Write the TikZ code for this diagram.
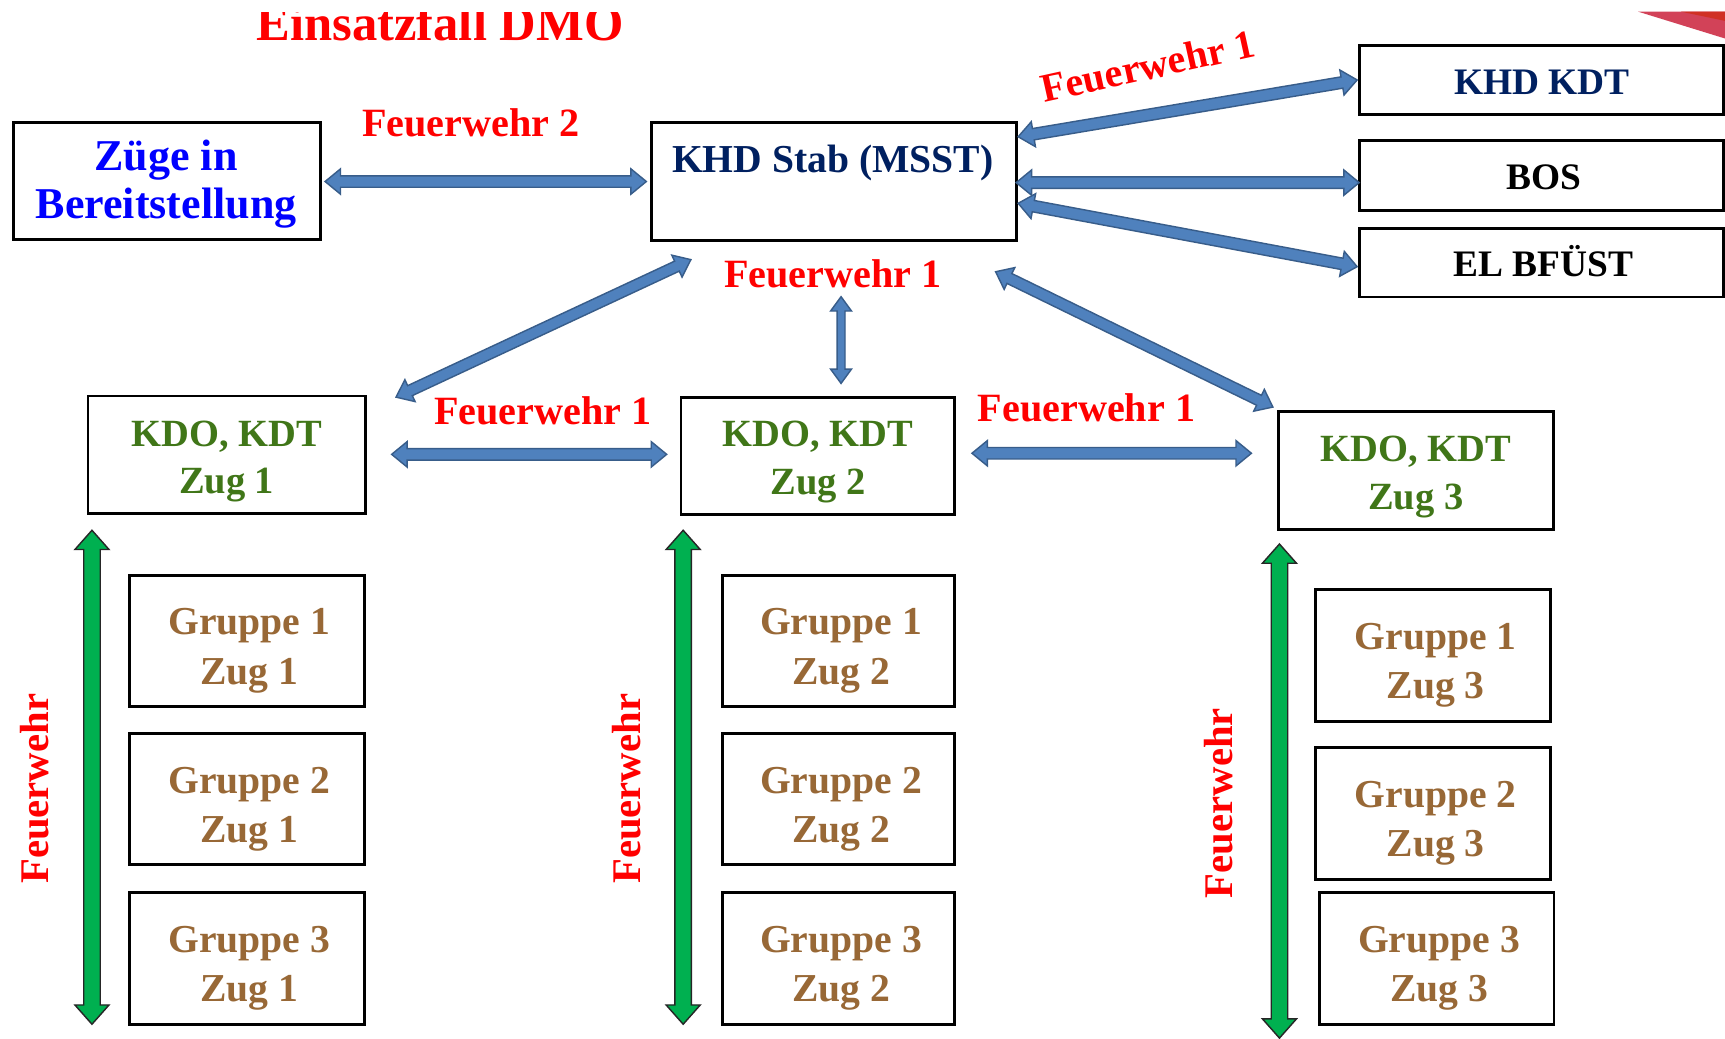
\documentclass[tikz,border=0pt]{standalone}
\usepackage{fontspec}
\setmainfont{Liberation Serif}
\usetikzlibrary{calc}
\definecolor{fwred}{RGB}{255,0,0}
\definecolor{zblue}{RGB}{0,0,255}
\definecolor{navy}{RGB}{0,32,96}
\definecolor{kgreen}{RGB}{64,118,24}
\definecolor{gbrown}{RGB}{152,104,54}
\definecolor{afill}{RGB}{79,129,189}
\definecolor{aline}{RGB}{56,93,138}
\definecolor{gfill}{RGB}{0,176,80}
\definecolor{decored}{RGB}{210,66,88}
\definecolor{decodark}{RGB}{208,48,36}
\newcommand\dblarrow[6]{%
  \coordinate (ha) at ($(#1)!#5!(#2)$);
  \coordinate (hb) at ($(#2)!#5!(#1)$);
  \path[#6] (#1) -- ($(ha)!#4!90:(#2)$) -- ($(ha)!#3!90:(#2)$)
    -- ($(hb)!#3!-90:(#1)$) -- ($(hb)!#4!-90:(#1)$) -- (#2)
    -- ($(hb)!#4!90:(#1)$) -- ($(hb)!#3!90:(#1)$)
    -- ($(ha)!#3!-90:(#2)$) -- ($(ha)!#4!-90:(#2)$) -- cycle;}
\tikzset{
  box/.style={draw=black, line width=2.6pt, rectangle, inner sep=0pt},
  gtxt/.style={font=\fontsize{36}{45}\selectfont\bfseries, text=gbrown, align=center, inner sep=0pt},
  ktxt/.style={font=\fontsize{35}{43.5}\selectfont\bfseries, text=kgreen, align=center, inner sep=0pt},
  ztxt/.style={font=\fontsize{40}{44}\selectfont\bfseries, text=zblue, align=center, inner sep=0pt},
  htxt/.style={font=\fontsize{34}{40}\selectfont\bfseries, anchor=base, inner sep=0pt},
  fwtxt/.style={font=\fontsize{36.5}{40}\selectfont\bfseries, text=fwred, anchor=base, inner sep=0pt},
  fwvert/.style={font=\fontsize{37}{40}\selectfont\bfseries, text=fwred, anchor=base, rotate=90, inner sep=0pt},
  barrow/.style={fill=afill, draw=aline, line width=1.3pt, line join=miter},
  garrow/.style={fill=gfill, draw=black!85, line width=1.3pt, line join=miter},
}
\begin{document}
\begin{tikzpicture}[x=1pt, y=-1pt]
\useasboundingbox (0,0) rectangle (1568,944);
\fill[white] (0,0) rectangle (1568,944);
% decoration top right
\fill[decored] (1489,10.6) -- (1568,10.6) -- (1568,35) -- cycle;
\fill[decodark] (1528,10.6) -- (1568,10.6) -- (1568,19) -- cycle;
% title
\begin{scope}
\clip (200,11.5) rectangle (700,60);
\node[font=\fontsize{46}{50}\selectfont\bfseries, text=fwred, anchor=base west, inner sep=0pt] (title) at (233,37) {Einsatzfall DMO};
\end{scope}
% top boxes
\node[box, minimum width=279pt, minimum height=107pt] (zuege) at (151.5,164.5) {};
\node[ztxt] (zuegetxt) at (151,167.5) {Züge in\\Bereitstellung};
\node[box, minimum width=332pt, minimum height=108pt] (stab) at (758,165) {};
\node[htxt, font=\fontsize{36}{40}\selectfont\bfseries, text=navy] (stabtxt) at (757,156.5) {KHD Stab (MSST)};
\node[box, minimum width=331pt, minimum height=63pt] (khdkdt) at (1401.5,72.5) {};
\node[htxt, text=navy] (khdkdttxt) at (1401.5,86) {KHD KDT};
\node[box, minimum width=331pt, minimum height=63pt] (bos) at (1401.5,159.5) {};
\node[htxt, text=black] (bostxt) at (1403,172.5) {BOS};
\node[box, minimum width=331pt, minimum height=62pt] (el) at (1401.5,239) {};
\node[htxt, text=black] (eltxt) at (1403,251.5) {EL BFÜST};
% KDO boxes
\node[box, minimum width=252pt, minimum height=107pt] (kdo1) at (206,413.5) {};
\node[ktxt] (kdo1txt) at (206,419.5) {KDO, KDT\\Zug 1};
\node[box, minimum width=249pt, minimum height=107pt] (kdo2) at (743.5,414.5) {};
\node[ktxt] (kdo2txt) at (743.5,420) {KDO, KDT\\Zug 2};
\node[box, minimum width=250pt, minimum height=107pt] (kdo3) at (1287,427.5) {};
\node[ktxt] (kdo3txt) at (1287,433.5) {KDO, KDT\\Zug 3};
% Gruppe boxes col 1
\node[box, minimum width=213pt, minimum height=119pt] (g11) at (224.5,582.5) {};
\node[gtxt] (g11t) at (226.5,591.5) {Gruppe 1\\Zug 1};
\node[box, minimum width=213pt, minimum height=119pt] (g21) at (224.5,726.5) {};
\node[gtxt] (g21t) at (226.5,735.5) {Gruppe 2\\Zug 1};
\node[box, minimum width=213pt, minimum height=120pt] (g31) at (224.5,871) {};
\node[gtxt] (g31t) at (226.5,880) {Gruppe 3\\Zug 1};
% col 2
\node[box, minimum width=211pt, minimum height=119pt] (g12) at (762.5,582.5) {};
\node[gtxt] (g12t) at (764.5,591.5) {Gruppe 1\\Zug 2};
\node[box, minimum width=211pt, minimum height=119pt] (g22) at (762.5,726.5) {};
\node[gtxt] (g22t) at (764.5,735.5) {Gruppe 2\\Zug 2};
\node[box, minimum width=211pt, minimum height=120pt] (g32) at (762.5,871) {};
\node[gtxt] (g32t) at (764.5,880) {Gruppe 3\\Zug 2};
% col 3
\node[box, minimum width=213.5pt, minimum height=120pt] (g13) at (1302.75,595.5) {};
\node[gtxt] (g13t) at (1305,604.5) {Gruppe 1\\Zug 3};
\node[box, minimum width=213.5pt, minimum height=119.7pt] (g23) at (1302.75,739.5) {};
\node[gtxt] (g23t) at (1305,748.5) {Gruppe 2\\Zug 3};
\node[box, minimum width=213.2pt, minimum height=120pt] (g33) at (1306,871) {};
\node[gtxt] (g33t) at (1308,880) {Gruppe 3\\Zug 3};
% red labels
\node[fwtxt] (fw2) at (428,124) {Feuerwehr 2};
\node[fwtxt, rotate=12.5] (fwkdt) at (1046,72) {Feuerwehr 1};
\node[fwtxt] (fwstab) at (757,261) {Feuerwehr 1};
\node[fwtxt] (fw12) at (493.5,385.5) {Feuerwehr 1};
\node[fwtxt] (fw23) at (987.5,382.7) {Feuerwehr 1};
\node[fwvert] (fwv1) at (44,717) {Feuerwehr};
\node[fwvert] (fwv2) at (582,717) {Feuerwehr};
\node[fwvert] (fwv3) at (1120.5,730) {Feuerwehr};
% arrow end points
\coordinate (zsA) at (295.5,165);   \coordinate (zsB) at (587.5,165);
\coordinate (skA) at (925.5,124.3); \coordinate (skB) at (1233.6,72.7);
\coordinate (sbA) at (923.7,166);   \coordinate (sbB) at (1235.5,166);
\coordinate (seA) at (925.5,184.8); \coordinate (seB) at (1233.6,242.4);
\coordinate (d1A) at (628,236);     \coordinate (d1B) at (360,361);
\coordinate (vA) at (764.5,269.7);  \coordinate (vB) at (764.5,348.5);
\coordinate (d3A) at (905,247);     \coordinate (d3B) at (1157,370);
\coordinate (k12A) at (356,413);    \coordinate (k12B) at (606,413);
\coordinate (k23A) at (883.5,412);  \coordinate (k23B) at (1137.5,412);
\coordinate (gr1A) at (83.6,482);   \coordinate (gr1B) at (83.6,931);
\coordinate (gr2A) at (621,482);    \coordinate (gr2B) at (621,931);
\coordinate (gr3A) at (1163,494.5); \coordinate (gr3B) at (1163,943.6);
% blue arrows
\dblarrow{zsA}{zsB}{5.2pt}{11.5pt}{14pt}{barrow}
\dblarrow{skA}{skB}{5.2pt}{11.5pt}{14pt}{barrow}
\dblarrow{sbA}{sbB}{5.2pt}{11.5pt}{14pt}{barrow}
\dblarrow{seA}{seB}{5.2pt}{11.5pt}{14pt}{barrow}
\dblarrow{d1A}{d1B}{5pt}{11pt}{14pt}{barrow}
\dblarrow{vA}{vB}{3.6pt}{9.5pt}{13pt}{barrow}
\dblarrow{d3A}{d3B}{5pt}{11pt}{14pt}{barrow}
\dblarrow{k12A}{k12B}{5.2pt}{11.5pt}{14pt}{barrow}
\dblarrow{k23A}{k23B}{5.2pt}{11.5pt}{14pt}{barrow}
% green arrows
\dblarrow{gr1A}{gr1B}{7.5pt}{15.5pt}{17.5pt}{garrow}
\dblarrow{gr2A}{gr2B}{7.5pt}{15.5pt}{17.5pt}{garrow}
\dblarrow{gr3A}{gr3B}{7.5pt}{15.5pt}{17.5pt}{garrow}
\end{tikzpicture}
\end{document}
